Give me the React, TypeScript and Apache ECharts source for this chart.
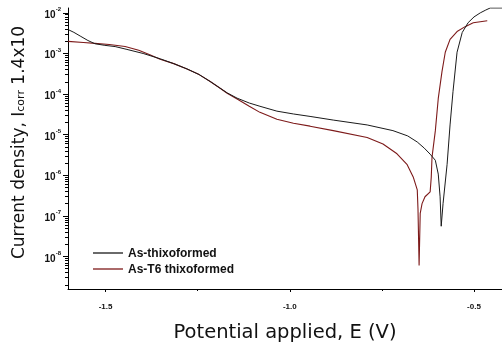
import React, { useEffect, useRef } from 'react';
import * as echarts from 'echarts';

// Potential (V) and log10 of current density
const blackPotential = [-1.602, -1.586, -1.569, -1.548, -1.529, -1.502, -1.474, -1.442, -1.398, -1.352, -1.315, -1.279, -1.246, -1.216, -1.19, -1.17, -1.143, -1.11, -1.081, -1.035, -0.99, -0.945, -0.882, -0.79, -0.72, -0.68, -0.654, -0.635, -0.619, -0.605, -0.597, -0.592, -0.589, -0.584, -0.573, -0.565, -0.557, -0.546, -0.532, -0.516, -0.5, -0.483, -0.468, -0.456, -0.424];
const blackLogCurrent = [-2.41, -2.48, -2.57, -2.68, -2.76, -2.8, -2.83, -2.9, -3.0, -3.13, -3.25, -3.38, -3.52, -3.69, -3.85, -3.97, -4.1, -4.22, -4.3, -4.42, -4.49, -4.55, -4.64, -4.76, -4.9, -5.03, -5.18, -5.33, -5.48, -5.63, -5.97, -6.53, -7.254, -6.697, -5.729, -4.76, -3.937, -2.969, -2.484, -2.242, -2.1, -2.0, -1.93, -1.879, -1.879];

const redPotential = [-1.602, -1.56, -1.529, -1.49, -1.447, -1.41, -1.38, -1.352, -1.315, -1.279, -1.246, -1.216, -1.19, -1.17, -1.143, -1.11, -1.081, -1.035, -0.99, -0.945, -0.882, -0.79, -0.747, -0.709, -0.682, -0.665, -0.654, -0.652, -0.649, -0.646, -0.641, -0.633, -0.619, -0.616, -0.614, -0.605, -0.597, -0.587, -0.578, -0.565, -0.546, -0.524, -0.502, -0.464];
const redLogCurrent = [-2.702, -2.73, -2.75, -2.78, -2.83, -2.92, -3.03, -3.14, -3.25, -3.38, -3.52, -3.69, -3.85, -3.98, -4.12, -4.3, -4.45, -4.62, -4.72, -4.79, -4.9, -5.07, -5.23, -5.47, -5.73, -6.04, -6.358, -6.843, -8.223, -6.94, -6.697, -6.528, -6.407, -6.044, -5.56, -4.906, -4.107, -3.453, -2.969, -2.654, -2.46, -2.339, -2.242, -2.194];

const seriesNames = ['As-thixoformed', 'As-T6 thixoformed'];
const xTickValues = [-1.5, -1.0, -0.5];
const xMinorTickValues = [-1.25, -0.75];
const yDecadeExponents = [-8, -7, -6, -5, -4, -3, -2];

const X_MIN = -1.602;
const X_MAX = -0.424;
const Y_MIN = -8.8;
const Y_MAX = -1.88;

const FONT = 'Liberation Sans, Arial, sans-serif';
const TITLE_FONT = 'DejaVu Sans, sans-serif';

export default function App() {
  const ref = useRef<HTMLDivElement>(null);
  useEffect(() => {
    document.body.style.margin = '0';
    const chart = echarts.init(ref.current!, null, { renderer: 'svg' });
    const yMinor: number[] = [];
    for (let n = -9; n <= -2; n++) {
      for (let k = 2; k <= 9; k++) {
        const v = n + Math.log10(k);
        if (v > Y_MIN && v < Y_MAX) yMinor.push(v);
      }
    }
    const black = blackPotential.map((e, i) => [e, blackLogCurrent[i]]);
    const red = redPotential.map((e, i) => [e, redLogCurrent[i]]);
    chart.setOption({
      animation: false,
      grid: { left: 68, right: 0, top: 8, bottom: 52, containLabel: false },
      legend: {
        data: seriesNames,
        orient: 'vertical',
        left: 93,
        top: 246,
        padding: 0,
        itemGap: 2,
        itemWidth: 30,
        itemHeight: 1.3,
        icon: 'rect',
        textStyle: { fontFamily: FONT, fontSize: 12, fontWeight: 'bold', color: '#111', lineHeight: 14 },
      },
      xAxis: [
        {
          type: 'value',
          min: X_MIN,
          max: X_MAX,
          axisLine: { lineStyle: { color: '#000', width: 1 } },
          axisTick: { customValues: xTickValues, length: 3, lineStyle: { color: '#000' } },
          axisLabel: {
            customValues: xTickValues,
            formatter: (v: number) => v.toFixed(1),
            fontFamily: FONT,
            fontSize: 8,
            fontWeight: 'bold',
            color: '#111',
            margin: 13,
          },
          splitLine: { show: false },
          name: 'Potential applied, E (V)',
          nameLocation: 'middle',
          nameGap: 32,
          nameTextStyle: { fontFamily: TITLE_FONT, fontSize: 19.5, color: '#111' },
        },
        {
          type: 'value',
          min: X_MIN,
          max: X_MAX,
          position: 'bottom',
          axisLine: { show: false },
          axisTick: { customValues: xMinorTickValues, length: 2, lineStyle: { color: '#000' } },
          axisLabel: { show: false },
          splitLine: { show: false },
        },
      ],
      yAxis: [
        {
          type: 'value',
          min: Y_MIN,
          max: Y_MAX,
          axisLine: { show: true, lineStyle: { color: '#000', width: 1 } },
          axisTick: { show: true, customValues: yDecadeExponents, length: 5, lineStyle: { color: '#000' } },
          axisLabel: {
            customValues: yDecadeExponents,
            formatter: (v: number) => `{b|10}{s|${v}}`,
            margin: 7,
            rich: {
              b: { fontFamily: FONT, fontSize: 10, fontWeight: 'bold', color: '#111', verticalAlign: 'bottom', lineHeight: 13 },
              s: { fontFamily: FONT, fontSize: 6, fontWeight: 'bold', color: '#111', verticalAlign: 'top', lineHeight: 13 },
            },
          },
          splitLine: { show: false },
          name: 'Current density, I{sub|corr} 1.4x10',
          nameLocation: 'middle',
          nameGap: 42,
          nameRotate: 90,
          nameTextStyle: {
            fontFamily: TITLE_FONT,
            fontSize: 17,
            color: '#111',
            padding: [0, 0, 0, 12],
            rich: {
              sub: { fontFamily: TITLE_FONT, fontSize: 11, color: '#111', verticalAlign: 'bottom', padding: [6, 0, 0, 0] },
            },
          },
        },
        {
          type: 'value',
          min: Y_MIN,
          max: Y_MAX,
          position: 'left',
          axisLine: { show: false },
          axisTick: { show: true, customValues: yMinor, length: 3, lineStyle: { color: '#000' } },
          axisLabel: { show: false },
          splitLine: { show: false },
        },
      ],
      series: [
        {
          name: seriesNames[1],
          type: 'line',
          data: red,
          showSymbol: false,
          color: '#7d1a1a',
          lineStyle: { width: 1.1, color: '#7d1a1a' },
          z: 2,
        },
        {
          name: seriesNames[0],
          type: 'line',
          data: black,
          showSymbol: false,
          color: '#1a1a1a',
          lineStyle: { width: 1, color: '#1a1a1a' },
          z: 3,
        },
      ],
    });
    return () => chart.dispose();
  }, []);
  return <div ref={ref} style={{ width: 502, height: 346, position: 'fixed', left: 0, top: 0 }} />;
}
